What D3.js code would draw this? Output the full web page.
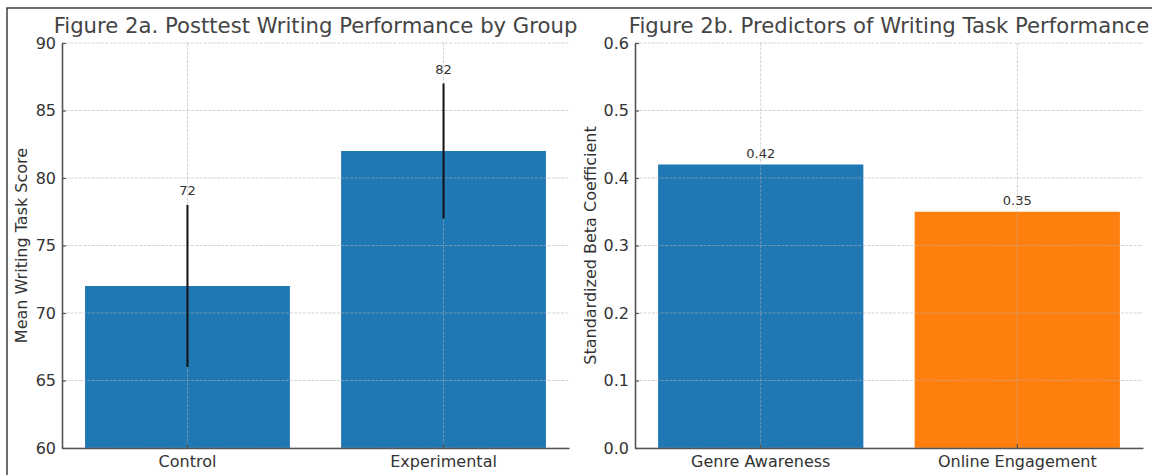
<!DOCTYPE html>
<html>
<head>
<meta charset="utf-8">
<script src="https://cdn.jsdelivr.net/npm/d3@7"></script>
<style>
  html, body { margin: 0; padding: 0; background: #fff; }
  svg { display: block; font-family: "DejaVu Sans", sans-serif; }
</style>
</head>
<body>
<svg id="chart" width="1152" height="475"></svg>
<script>
// Figure 2a: posttest group means with spread
const groups = ["Control", "Experimental"];
const groupMeans = [72, 82];
const groupErrors = [6, 5];
const scoreTicks = [60, 65, 70, 75, 80, 85, 90];

// Figure 2b: regression predictors
const predictors = ["Genre Awareness", "Online Engagement"];
const betas = [0.42, 0.35];
const betaTicks = [0.0, 0.1, 0.2, 0.3, 0.4, 0.5, 0.6];

const barColors = ["#1f77b4", "#ff7f0e"];

const svg = d3.select("#chart");

// outer frame
svg.append("rect")
  .attr("x", 7).attr("y", 8)
  .attr("width", 1200).attr("height", 520)
  .attr("fill", "none").attr("stroke", "#222").attr("stroke-width", 1.3);

function panel(opts) {
  const { left, right, top, bottom } = opts;
  const g = svg.append("g");

  const x = d3.scaleBand()
    .domain(opts.categories)
    .range([left, right])
    .paddingInner(0.2)
    .paddingOuter(0.09);

  const y = d3.scaleLinear().domain(opts.yDomain).range([bottom, top]);

  // bars
  g.selectAll("rect.bar")
    .data(opts.values)
    .join("rect")
    .attr("class", "bar")
    .attr("x", (d, i) => x(opts.categories[i]))
    .attr("width", x.bandwidth())
    .attr("y", d => y(d))
    .attr("height", d => y(opts.yDomain[0]) - y(d))
    .attr("fill", (d, i) => opts.colors[i]);

  // dashed grid, drawn above bars
  const grid = g.append("g")
    .attr("stroke", "#b0b0b0")
    .attr("stroke-opacity", 0.7)
    .attr("stroke-width", 0.8)
    .attr("stroke-dasharray", "3,1.3");
  grid.selectAll("line.h")
    .data(opts.yTicks)
    .join("line")
    .attr("x1", left).attr("x2", right)
    .attr("y1", d => y(d)).attr("y2", d => y(d));
  grid.selectAll("line.v")
    .data(opts.categories)
    .join("line")
    .attr("x1", d => x(d) + x.bandwidth() / 2)
    .attr("x2", d => x(d) + x.bandwidth() / 2)
    .attr("y1", top).attr("y2", bottom);

  // error bars
  if (opts.errors) {
    g.selectAll("line.err")
      .data(opts.values)
      .join("line")
      .attr("x1", (d, i) => x(opts.categories[i]) + x.bandwidth() / 2)
      .attr("x2", (d, i) => x(opts.categories[i]) + x.bandwidth() / 2)
      .attr("y1", (d, i) => y(d - opts.errors[i]))
      .attr("y2", (d, i) => y(d + opts.errors[i]))
      .attr("stroke", "#111")
      .attr("stroke-width", 2);
  }

  // value labels
  g.selectAll("text.val")
    .data(opts.values)
    .join("text")
    .attr("x", (d, i) => x(opts.categories[i]) + x.bandwidth() / 2)
    .attr("y", (d, i) => y(d + (opts.errors ? opts.errors[i] : 0) + opts.labelPad) - 3)
    .attr("text-anchor", "middle")
    .attr("font-size", 13)
    .attr("fill", "#333")
    .text(opts.labelFmt);

  // y axis
  const yAxis = d3.axisLeft(y)
    .tickValues(opts.yTicks)
    .tickFormat(opts.tickFmt)
    .tickSizeInner(-4)
    .tickSizeOuter(0)
    .tickPadding(6);
  const ya = g.append("g")
    .attr("transform", `translate(${left},0)`)
    .call(yAxis);
  ya.select(".domain").attr("stroke", "#555").attr("stroke-width", 1.6);
  ya.selectAll(".tick line").attr("stroke", "#555").attr("stroke-width", 1.2);
  ya.selectAll(".tick text")
    .attr("font-size", 16).attr("fill", "#333")
    .attr("font-family", "DejaVu Sans");

  // x axis
  const xAxis = d3.axisBottom(x)
    .tickSizeInner(-4)
    .tickSizeOuter(0)
    .tickPadding(7.5);
  const xa = g.append("g")
    .attr("transform", `translate(0,${bottom})`)
    .call(xAxis);
  xa.select(".domain").attr("stroke", "#555").attr("stroke-width", 1.6);
  xa.selectAll(".tick line").attr("stroke", "#555").attr("stroke-width", 1.2);
  xa.selectAll(".tick text")
    .attr("font-size", 16).attr("fill", "#333")
    .attr("font-family", "DejaVu Sans");

  // axis title
  g.append("text")
    .attr("transform", `translate(${opts.yLabelX},${(top + bottom) / 2}) rotate(-90)`)
    .attr("text-anchor", "middle")
    .attr("dominant-baseline", "middle")
    .attr("font-size", 16)
    .attr("fill", "#333")
    .text(opts.yLabel);

  // panel title
  g.append("text")
    .attr("x", (left + right) / 2)
    .attr("y", 33)
    .attr("text-anchor", "middle")
    .attr("font-size", 21.2)
    .attr("fill", "#444")
    .text(opts.title);
}

panel({
  left: 62, right: 569, top: 43, bottom: 448,
  categories: groups,
  values: groupMeans,
  errors: groupErrors,
  colors: [barColors[0], barColors[0]],
  yDomain: [60, 90],
  yTicks: scoreTicks,
  tickFmt: d3.format("d"),
  labelFmt: d => d3.format("d")(d),
  labelPad: 0.5,
  yLabel: "Mean Writing Task Score",
  yLabelX: 22,
  title: "Figure 2a. Posttest Writing Performance by Group"
});

panel({
  left: 635, right: 1143, top: 43, bottom: 448,
  categories: predictors,
  values: betas,
  errors: null,
  colors: barColors,
  yDomain: [0, 0.6],
  yTicks: betaTicks,
  tickFmt: d3.format(".1f"),
  labelFmt: d => d3.format(".2f")(d),
  labelPad: 0.005,
  yLabel: "Standardized Beta Coefficient",
  yLabelX: 591,
  title: "Figure 2b. Predictors of Writing Task Performance"
});
</script>
</body>
</html>
